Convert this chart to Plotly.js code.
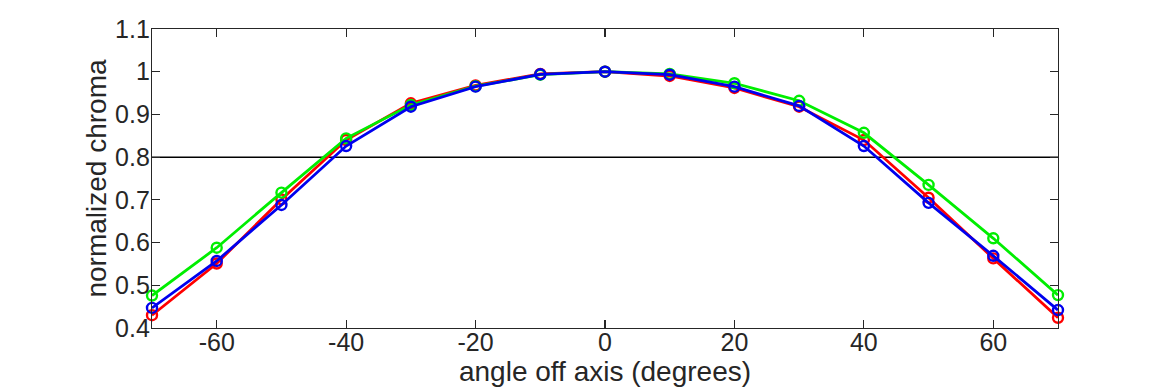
<!DOCTYPE html>
<html>
<head>
<meta charset="utf-8">
<script src="https://cdn.plot.ly/plotly-3.0.1.min.js"></script>
<style>
html,body{margin:0;padding:0;background:#fff;}
#chart{width:1170px;height:390px;}
</style>
</head>
<body>
<div id="chart"></div>
<script>
const angles = [-70, -60, -50, -40, -30, -20, -10, 0, 10, 20, 30, 40, 50, 60, 70];
const redValues   = [0.430, 0.551, 0.701, 0.840, 0.926, 0.968, 0.995, 1.000, 0.990, 0.962, 0.918, 0.840, 0.705, 0.563, 0.424];
const greenValues = [0.476, 0.588, 0.717, 0.844, 0.922, 0.966, 0.993, 1.000, 0.995, 0.973, 0.932, 0.857, 0.735, 0.610, 0.477];
const blueValues  = [0.447, 0.557, 0.688, 0.826, 0.918, 0.965, 0.994, 1.000, 0.993, 0.965, 0.920, 0.826, 0.693, 0.569, 0.442];
const threshold = 0.8;
const xTicks = [-60, -40, -20, 0, 20, 40, 60];
const yTicks = [0.4, 0.5, 0.6, 0.7, 0.8, 0.9, 1, 1.1];
const yTickLabels = ['0.4', '0.5', '0.6', '0.7', '0.8', '0.9', '1', '1.1'];

function series(y, color) {
  return {
    x: angles, y: y, type: 'scatter', mode: 'lines+markers',
    line: {color: color, width: 2.8},
    marker: {symbol: 'circle-open', size: 10, color: color, line: {width: 2.4, color: color}},
    cliponaxis: false, hoverinfo: 'skip'
  };
}

const data = [
  series(redValues, '#ff0000'),
  series(greenValues, '#00ee00'),
  series(blueValues, '#0000ee')
];

const fam = 'Liberation Sans, Arial, Helvetica, sans-serif';
const txt = '#262626';

const layout = {
  width: 1170, height: 390,
  margin: {l: 152, r: 112, t: 29, b: 62},
  paper_bgcolor: '#fff', plot_bgcolor: '#fff',
  showlegend: false,
  font: {family: fam, color: txt},
  xaxis: {
    range: [-70, 70], tickvals: xTicks, ticktext: xTicks.map(String),
    ticks: 'inside', ticklen: 8, tickwidth: 1.2, tickcolor: '#262626',
    showline: true, linecolor: '#262626', linewidth: 1.2, mirror: 'ticks',
    showgrid: false, zeroline: false,
    ticklabelstandoff: -8,
    tickfont: {size: 25, family: fam, color: txt},
    title: {text: 'angle off axis (degrees)', font: {size: 28, family: fam, color: txt}, standoff: 0}
  },
  yaxis: {
    range: [0.4, 1.1], tickvals: yTicks, ticktext: yTickLabels,
    ticks: 'inside', ticklen: 8, tickwidth: 1.2, tickcolor: '#262626',
    showline: true, linecolor: '#262626', linewidth: 1.2, mirror: 'ticks',
    showgrid: false, zeroline: false,
    ticklabelstandoff: -4,
    tickfont: {size: 25, family: fam, color: txt},
    title: {text: 'normalized chroma', font: {size: 28, family: fam, color: txt}, standoff: 0}
  },
  shapes: [{
    type: 'line', xref: 'paper', x0: 0, x1: 1, yref: 'y', y0: threshold, y1: threshold,
    line: {color: '#000', width: 1.5}, layer: 'below'
  }]
};

Plotly.newPlot('chart', data, layout, {staticPlot: true, displayModeBar: false});
</script>
</body>
</html>
